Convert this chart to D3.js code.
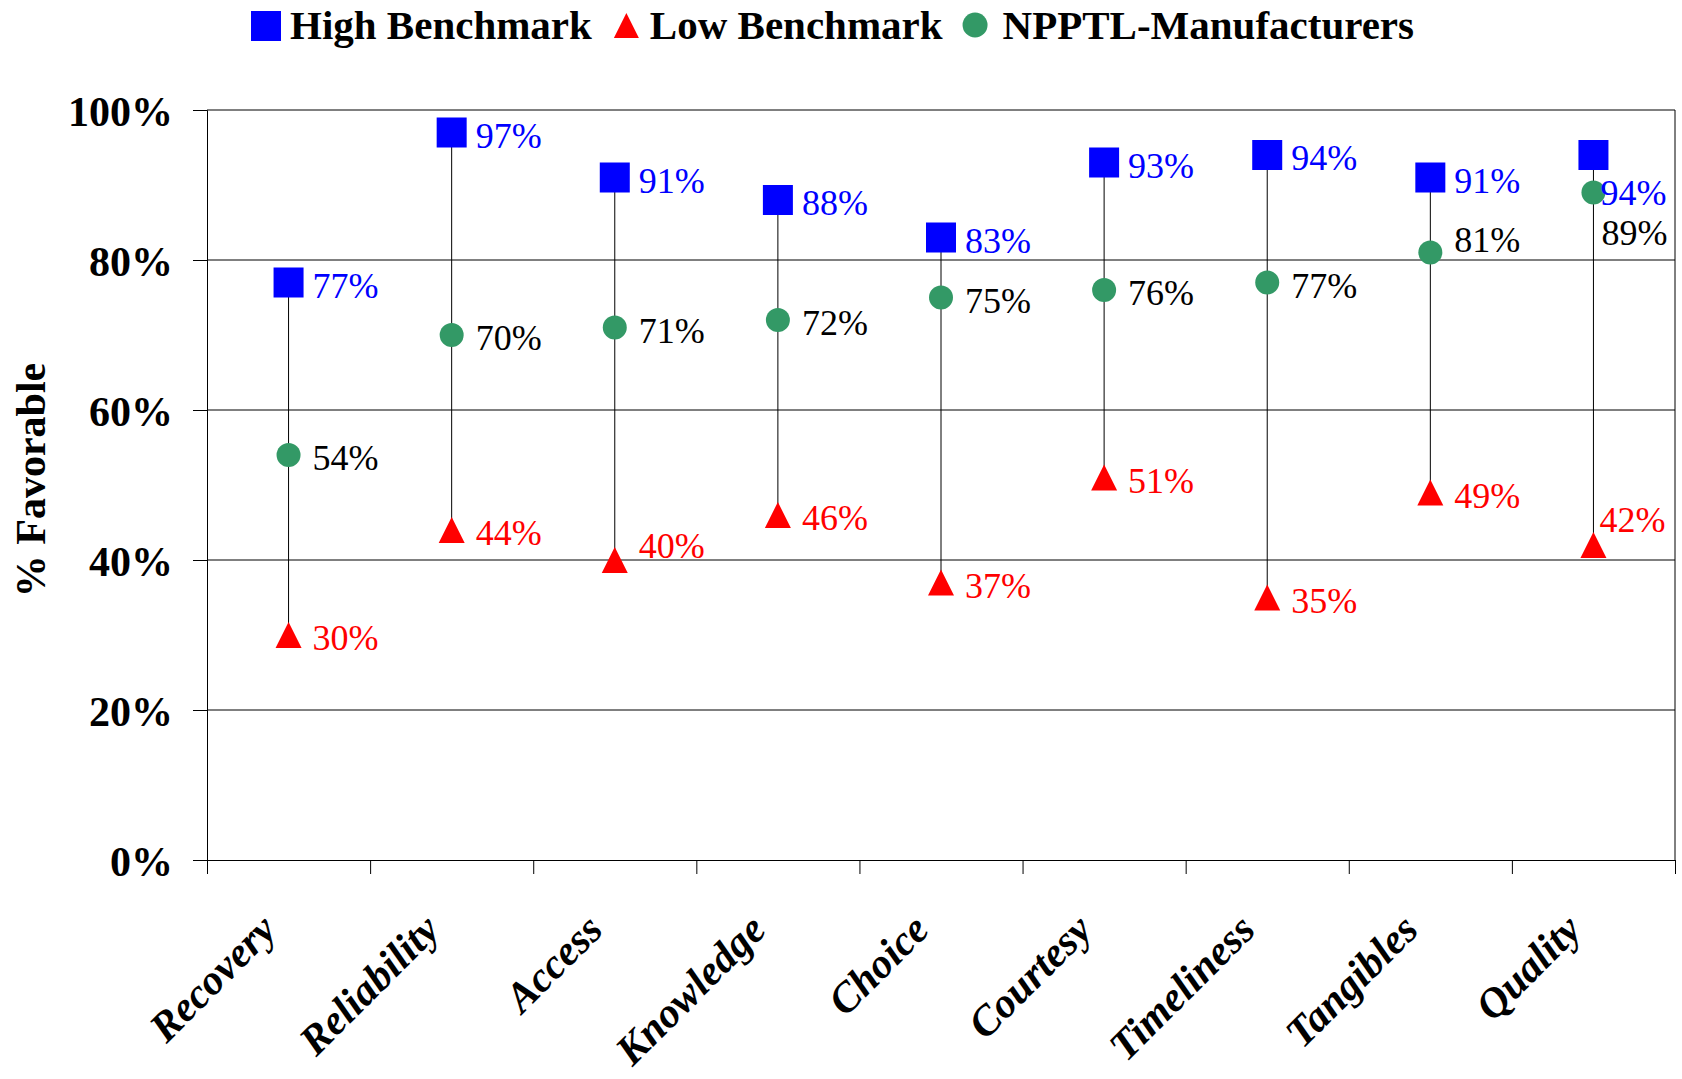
<!DOCTYPE html>
<html>
<head>
<meta charset="utf-8">
<script src="https://cdn.jsdelivr.net/npm/d3@7/dist/d3.min.js"></script>
<style>
  body { margin: 0; background: #fff; }
  svg { display: block; }
  text { font-family: "Liberation Serif", "Times New Roman", serif; }
</style>
</head>
<body>
<div id="chart"></div>
<script>
// Data
const categories = ["Recovery", "Reliability", "Access", "Knowledge", "Choice",
  "Courtesy", "Timeliness", "Tangibles", "Quality"];
const highBenchmark = [77, 97, 91, 88, 83, 93, 94, 91, 94];
const lowBenchmark = [30, 44, 40, 46, 37, 51, 35, 49, 42];
const manufacturers = [54, 70, 71, 72, 75, 76, 77, 81, 89];
const yTicks = [0, 20, 40, 60, 80, 100];

// Label nudges for a few crowded labels (series|category -> [dx, dy])
const labelNudge = {
  "high|Quality": [-17, 35],
  "mid|Quality": [-16, 37],
  "low|Quality": [-18, -28],
  "low|Access": [0, -17],
  "mid|Tangibles": [0, -16]
};

const W = 1682, H = 1079;
const margin = { left: 207, right: 7, top: 110, bottom: 219 };
const plotW = W - margin.left - margin.right;
const plotH = H - margin.top - margin.bottom;
const FONT = "Liberation Serif";

const colors = { high: "#0000ff", low: "#ff0000", mid: "#339966" };

const svg = d3.select("#chart").append("svg")
  .attr("width", W)
  .attr("height", H);

const g = svg.append("g")
  .attr("transform", `translate(${margin.left},${margin.top})`);

// Scales
const x = d3.scaleBand().domain(categories).range([0, plotW]).padding(0);
const xIdx = d3.scaleLinear().domain([0, categories.length]).range([0, plotW]);
const y = d3.scaleLinear().domain([0, 100]).range([plotH, 0]);
const cx = (c) => x(c) + x.bandwidth() / 2;

// Gridlines
g.append("g")
  .selectAll("line")
  .data(yTicks.filter((t) => t > 0))
  .join("line")
  .attr("x1", 0)
  .attr("x2", plotW)
  .attr("y1", (d) => y(d))
  .attr("y2", (d) => y(d))
  .attr("stroke", "#000")
  .attr("stroke-width", 1);

// Right border
g.append("line")
  .attr("x1", plotW).attr("x2", plotW)
  .attr("y1", 0).attr("y2", plotH)
  .attr("stroke", "#000");

// Y axis
const yAxis = g.append("g")
  .call(d3.axisLeft(y).tickValues(yTicks).tickSize(14).tickPadding(20)
    .tickFormat((d) => d + "%"));
yAxis.select(".domain").attr("stroke", "#000");
yAxis.selectAll("line").attr("stroke", "#000");
yAxis.selectAll("text")
  .attr("font-family", FONT)
  .attr("font-size", 42)
  .attr("font-weight", "bold")
  .attr("fill", "#000")
  .attr("dy", "0.36em");

// X axis (ticks between categories)
const xAxis = g.append("g")
  .attr("transform", `translate(0,${plotH})`)
  .call(d3.axisBottom(xIdx).tickValues(d3.range(categories.length + 1))
    .tickSize(14).tickFormat(""));
xAxis.select(".domain").attr("stroke", "#000");
xAxis.selectAll("line").attr("stroke", "#000");

// Category labels
g.append("g")
  .selectAll("text")
  .data(categories)
  .join("text")
  .attr("transform", (d) => `translate(${cx(d) - 10},${plotH + 72}) rotate(-45)`)
  .attr("text-anchor", "end")
  .attr("font-family", FONT)
  .attr("font-size", 42)
  .attr("font-weight", "bold")
  .attr("font-style", "italic")
  .attr("fill", "#000")
  .text((d) => d);

// Y axis title
svg.append("text")
  .attr("transform", "translate(45,480) rotate(-90)")
  .attr("text-anchor", "middle")
  .attr("font-family", FONT)
  .attr("font-size", 42)
  .attr("font-weight", "bold")
  .attr("fill", "#000")
  .text("% Favorable");

// Rows
const rows = categories.map((c, i) => ({
  cat: c,
  high: highBenchmark[i],
  low: lowBenchmark[i],
  mid: manufacturers[i]
}));

// Hi-lo drop lines
g.append("g")
  .selectAll("line")
  .data(rows)
  .join("line")
  .attr("x1", (d) => cx(d.cat))
  .attr("x2", (d) => cx(d.cat))
  .attr("y1", (d) => y(d.high))
  .attr("y2", (d) => y(d.low))
  .attr("stroke", "#000")
  .attr("stroke-width", 1);

// Markers
const sq = 30, tri = 26;
g.append("g")
  .selectAll("rect")
  .data(rows)
  .join("rect")
  .attr("x", (d) => cx(d.cat) - sq / 2)
  .attr("y", (d) => y(d.high) - sq / 2)
  .attr("width", sq)
  .attr("height", sq)
  .attr("fill", colors.high);

g.append("g")
  .selectAll("path")
  .data(rows)
  .join("path")
  .attr("d", (d) => {
    const px = cx(d.cat), py = y(d.low);
    return `M${px},${py - tri / 2}L${px + tri / 2},${py + tri / 2}L${px - tri / 2},${py + tri / 2}Z`;
  })
  .attr("fill", colors.low);

g.append("g")
  .selectAll("circle")
  .data(rows)
  .join("circle")
  .attr("cx", (d) => cx(d.cat))
  .attr("cy", (d) => y(d.mid))
  .attr("r", 12)
  .attr("fill", colors.mid);

// Data labels
const labelSeries = [
  { key: "high", color: colors.high },
  { key: "mid", color: "#000" },
  { key: "low", color: colors.low }
];
labelSeries.forEach((s) => {
  g.append("g")
    .selectAll("text")
    .data(rows)
    .join("text")
    .attr("x", (d) => cx(d.cat) + 24 + (labelNudge[s.key + "|" + d.cat] || [0, 0])[0])
    .attr("y", (d) => y(d[s.key]) + 15 + (labelNudge[s.key + "|" + d.cat] || [0, 0])[1])
    .attr("font-family", FONT)
    .attr("font-size", 36)
    .attr("fill", s.color)
    .text((d) => d[s.key] + "%");
});

// Legend
const legend = svg.append("g").attr("transform", "translate(251,0)");
const legendItems = [
  { label: "High Benchmark", type: "square", gapIn: 9 },
  { label: "Low Benchmark", type: "triangle", gapIn: 11 },
  { label: "NPPTL-Manufacturers", type: "circle", gapIn: 15 }
];
const legendGaps = [22, 20];
let lx = 0;
legendItems.forEach((it, i) => {
  if (it.type === "square") {
    legend.append("rect").attr("x", lx).attr("y", 11).attr("width", 30).attr("height", 30)
      .attr("fill", colors.high);
    lx += 30;
  } else if (it.type === "triangle") {
    legend.append("path")
      .attr("d", `M${lx + 12.5},13L${lx + 25},38L${lx},38Z`)
      .attr("fill", colors.low);
    lx += 25;
  } else {
    legend.append("circle").attr("cx", lx + 12.5).attr("cy", 25).attr("r", 12.5)
      .attr("fill", colors.mid);
    lx += 25;
  }
  lx += it.gapIn;
  const t = legend.append("text")
    .attr("x", lx)
    .attr("y", 39)
    .attr("font-family", FONT)
    .attr("font-size", 41)
    .attr("font-weight", "bold")
    .attr("fill", "#000")
    .text(it.label);
  lx += t.node().getComputedTextLength() + (legendGaps[i] || 0);
});
</script>
</body>
</html>
